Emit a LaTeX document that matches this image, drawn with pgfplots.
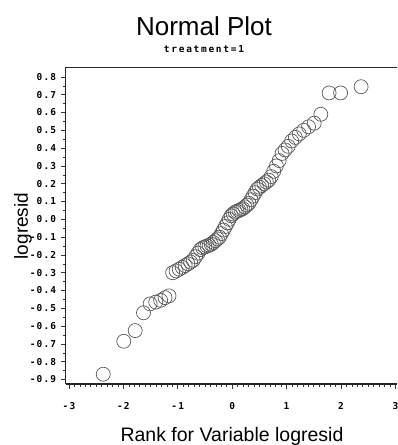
\documentclass[border=0pt]{standalone}
\usepackage{pgfplots}
\pgfplotsset{compat=1.18}
\usepackage{fontspec}
\setmainfont{Liberation Sans}
\newfontfamily\tickfont{DejaVu Sans Mono}[LetterSpace=12]
\newfontfamily\subfont{DejaVu Sans Mono}[LetterSpace=18]
\pgfplotstableread{
x y
-2.370 -0.870
-1.993 -0.685
-1.782 -0.625
-1.630 -0.525
-1.508 -0.475
-1.405 -0.465
-1.315 -0.455
-1.234 -0.440
-1.161 -0.430
-1.094 -0.300
-1.031 -0.290
-0.973 -0.280
-0.917 -0.270
-0.864 -0.260
-0.813 -0.250
-0.764 -0.240
-0.717 -0.230
-0.672 -0.210
-0.628 -0.190
-0.585 -0.170
-0.543 -0.160
-0.502 -0.155
-0.462 -0.150
-0.423 -0.145
-0.384 -0.140
-0.346 -0.130
-0.308 -0.120
-0.271 -0.110
-0.234 -0.100
-0.197 -0.080
-0.161 -0.060
-0.125 -0.040
-0.089 -0.020
-0.054 0.000
-0.018 0.020
0.018 0.030
0.054 0.040
0.089 0.045
0.125 0.050
0.161 0.055
0.197 0.060
0.234 0.070
0.271 0.080
0.308 0.090
0.346 0.110
0.384 0.130
0.423 0.150
0.462 0.170
0.502 0.180
0.543 0.190
0.585 0.200
0.628 0.210
0.672 0.220
0.717 0.240
0.764 0.270
0.813 0.300
0.864 0.330
0.917 0.370
0.973 0.390
1.031 0.410
1.094 0.440
1.161 0.460
1.234 0.480
1.315 0.500
1.405 0.520
1.508 0.540
1.630 0.590
1.782 0.710
1.993 0.710
2.370 0.745
}\datatable
\begin{document}
\begin{tikzpicture}[x=1pt,y=1pt]
\useasboundingbox (0,0) rectangle (397,445);
\begin{axis}[
  at={(65.7pt,61pt)}, anchor=south west,
  scale only axis, width=331.3pt, height=316.7pt,
  xmin=-3.06, xmax=3.03, ymin=-0.925, ymax=0.854,
  axis x line=box, axis y line=left,
  axis line style={-, line width=1.1pt, black!85},
  xtick pos=bottom, ytick pos=left,
  tick align=outside,
  xtick={-3,-2,-1,0,1,2,3},
  xticklabels={-3,-2,-1,0,1,2,3},
  ytick={-0.9,-0.8,-0.7,-0.6,-0.5,-0.4,-0.3,-0.2,-0.1,0,0.1,0.2,0.3,0.4,0.5,0.6,0.7,0.8},
  yticklabels={-0.9,-0.8,-0.7,-0.6,-0.5,-0.4,-0.3,-0.2,-0.1,0.0,0.1,0.2,0.3,0.4,0.5,0.6,0.7,0.8},
  minor x tick num=9, minor y tick num=1,
  major tick length=5pt, minor tick length=2.5pt,
  every tick/.style={black!80, line width=0.6pt},
  ticklabel style={font=\tickfont\bfseries\fontsize{9.5}{10}\selectfont},
  xticklabel style={yshift=-10pt},
  yticklabel style={xshift=-1pt},
]
\addplot[only marks, mark=o, mark size=7pt, mark options={draw=black!65, line width=0.7pt}] table[x=x,y=y] {\datatable};
\end{axis}
\node at (204,419) {\fontsize{26}{26}\selectfont Normal Plot};
\node at (204,396) {\subfont\bfseries\fontsize{9.5}{10}\selectfont treatment=1};
\node at (232,9) {\fontsize{19.5}{19.5}\selectfont Rank for Variable logresid};
\node[rotate=90] at (23,219) {\fontsize{19}{19}\selectfont logresid};
\end{tikzpicture}
\end{document}
